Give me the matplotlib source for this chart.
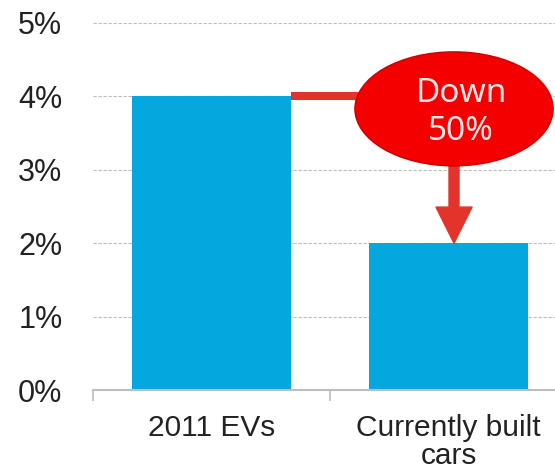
import matplotlib

matplotlib.use("Agg")
import matplotlib.pyplot as plt
from matplotlib.patches import Ellipse

# Share of vehicle value, by group
categories = ["2011 EVs", "Currently built\ncars"]
values = [4.0, 2.0]
y_ticks = [0, 1, 2, 3, 4, 5]
y_tick_labels = ["0%", "1%", "2%", "3%", "4%", "5%"]
callout_text = "Down\n50%"

BAR_COLOR = "#05A7DF"
ARROW_COLOR = "#E2342B"
BUBBLE_COLOR = "#F40000"
GRID_COLOR = "#BEBEBE"

plt.rcParams["font.family"] = ["Liberation Sans", "DejaVu Sans"]

fig = plt.figure(figsize=(5.55, 4.72), dpi=100)
ax = fig.add_axes([93 / 555, 82 / 472, 1 - 93 / 555, 367 / 472])

x = list(range(len(categories)))
bar_width = 0.67
bars = ax.bar(x, values, width=bar_width, color=BAR_COLOR, zorder=2)

ax.set_xlim(-0.5, 1.449)
ax.set_ylim(0, 5)

# y axis: labels only, dashed horizontal grid
ax.set_yticks(y_ticks)
ax.set_yticklabels(y_tick_labels, fontsize=22, color="#222222")
ax.tick_params(axis="y", length=0, pad=22)
ax.grid(axis="y", color=GRID_COLOR, linestyle=(0, (3, 1.5)), linewidth=0.8, zorder=0)

# x axis: boundary ticks below, category names centred on bars
ax.set_xticks([-0.5, 0.5])
ax.set_xticklabels(["", ""])
ax.tick_params(axis="x", which="major", length=8, width=1.2, color=GRID_COLOR)
ax.set_xticks(x, minor=True)
ax.set_xticklabels(categories, minor=True, fontsize=21.5, color="#222222",
                   linespacing=1.0)
ax.tick_params(axis="x", which="minor", length=0, pad=17)

for side in ["left", "right", "top"]:
    ax.spines[side].set_visible(False)
ax.spines["bottom"].set_color(GRID_COLOR)
ax.spines["bottom"].set_linewidth(1.5)

# callout bubble with connector and arrow down to the second bar
bubble_x, bubble_y = 1.023, 3.83
left_edge = bars[0].get_x() + bars[0].get_width()
ax.plot([left_edge, bubble_x], [values[0], values[0]], color=ARROW_COLOR,
        linewidth=5.8, solid_capstyle="butt", zorder=3)
ax.annotate(
    "",
    xy=(bubble_x, values[1]),
    xytext=(bubble_x, bubble_y),
    arrowprops=dict(
        arrowstyle="simple,head_length=2.6,head_width=2.6,tail_width=0.72",
        mutation_scale=10,
        color=ARROW_COLOR,
        shrinkA=0,
        shrinkB=0,
    ),
    zorder=3,
)
bubble = Ellipse((bubble_x, bubble_y), width=0.835, height=1.55,
                 facecolor=BUBBLE_COLOR, edgecolor="#D40000", linewidth=1.2,
                 zorder=4, clip_on=False)
ax.add_patch(bubble)
ax.text(bubble_x + 0.03, bubble_y - 0.05, callout_text, ha="center", va="center",
        fontsize=24, color="#FFE6E6", family=["Noto Sans", "DejaVu Sans"],
        linespacing=1.2, zorder=5)

fig.savefig("out.png", dpi=100)
